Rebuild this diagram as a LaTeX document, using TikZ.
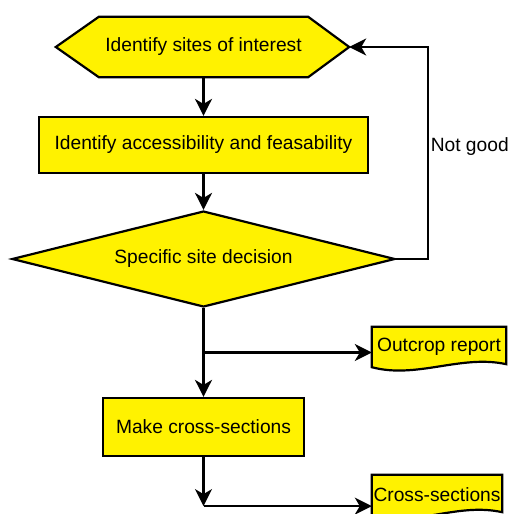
\documentclass[tikz,border=0pt]{standalone}
\usepackage{fontspec}
\setmainfont{Liberation Sans}
\usetikzlibrary{shapes.geometric,arrows.meta,calc,backgrounds}
\begin{document}
\begin{tikzpicture}[x=1pt, y=-1pt, font=\fontsize{19.2}{23}\selectfont, line join=miter, >={Stealth[length=17pt,width=17pt,inset=5pt]},
	blk/.style={rectangle, draw, line width=2.2pt, fill=yellow, inner sep=0pt},
	bare/.style={rectangle, inner sep=0pt},
	dec/.style={diamond, aspect=4, draw, line width=2.2pt, fill=yellow, inner sep=0pt},
	shp/.style={draw, line width=2.2pt, fill=yellow},
	con/.style={line width=2.2pt, ->}]
	\useasboundingbox (0,0) rectangle (509,514);
	\node[bare, minimum width=209pt, minimum height=60pt] (sites) at (203.5,47) {Identify sites of interest};
	\coordinate (sitesE) at ($(sites.east)+(41,0)$);
	\coordinate (sitesW) at ($(sites.west)+(-43,0)$);
	\node[blk, minimum width=329pt, minimum height=56pt] (access) at (203.5,145) {Identify accessibility and feasability};
	\node[dec, minimum width=383pt, minimum height=96pt] (decide) at (203.5,259) {Specific site decision};
	\node[blk, minimum width=201pt, minimum height=58pt] (sections) at (203.5,427) {Make cross-sections};
	\node[bare, minimum width=134pt, minimum height=40pt] (outcrop) at (439,347) {Outcrop report};
	\node[bare, minimum width=130pt, minimum height=40pt] (xsec) at (437,495) {Cross-sections};
	\begin{scope}[on background layer]
		\draw[shp](sites.north west)--(sites.north east)--(sitesE)--(sites.south east)--(sites.south west)--(sitesW)--cycle;
		\draw[shp](outcrop.south west)--(outcrop.north west)--(outcrop.north east)--($(outcrop.south east)+(0,-3)$) .. controls +(-45,-10) and +(45,12) .. (outcrop.south west)--cycle;
		\draw[shp](xsec.south west)--(xsec.north west)--(xsec.north east)--($(xsec.south east)+(0,-3)$) .. controls +(-45,-10) and +(45,12) .. (xsec.south west)--cycle;
	\end{scope}
	\coordinate (split1) at ($(decide.south)!.5!(sections.north)$);
	\coordinate (split2) at ($(sections.south)+(0,49)$);
	\coordinate (loop) at ($(decide.east)+(32,0)$);
	\draw[con](sites.south)--(access.north);
	\draw[con](access.south)--(decide.north);
	\draw[con](decide.south)--(sections.north);
	\draw[con](split1)--(split1-|outcrop.west);
	\draw[con](sections.south)--(split2);
	\draw[con](split2)--(split2-|xsec.west);
	\draw[con](decide.east)--(loop)|-(sitesE);
	\node[right, inner sep=2.5pt] (notgood) at ($(loop)!.53!(loop|-sitesE)$) {Not good};
\end{tikzpicture}
\end{document}
